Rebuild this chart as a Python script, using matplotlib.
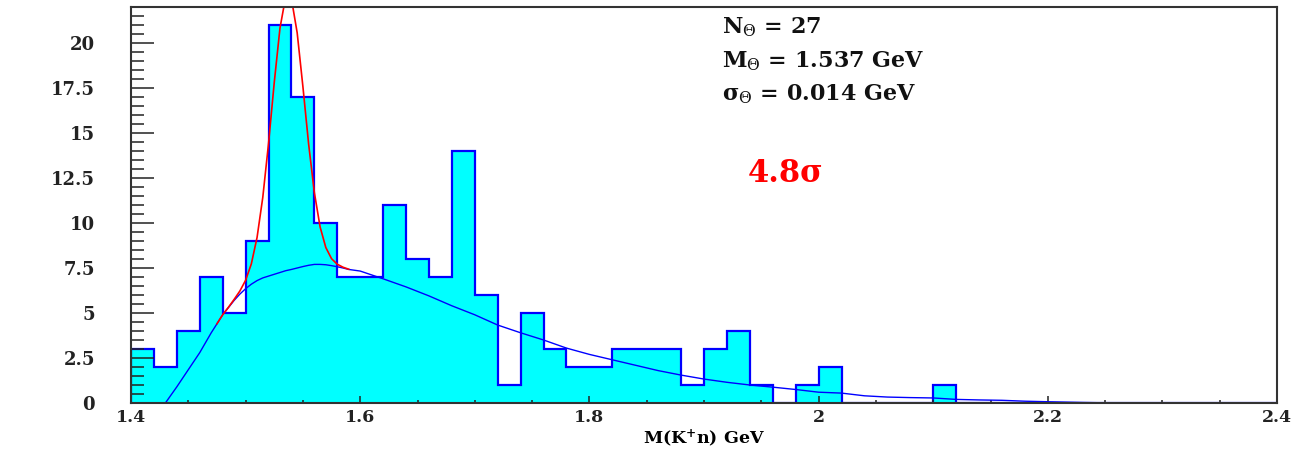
import numpy as np
import matplotlib
matplotlib.use("Agg")
import matplotlib.pyplot as plt
from matplotlib.ticker import MultipleLocator, FixedLocator, FixedFormatter

plt.rcParams["mathtext.fontset"] = "dejavuserif"

# K+n invariant-mass histogram, 0.02 GeV bins from 1.40 to 2.40 GeV
bin_width = 0.02
bin_low = 1.40
counts = [3, 2, 4, 7, 5, 9, 21, 17, 10, 7,
          7, 11, 8, 7, 14, 6, 1, 5, 3, 2,
          2, 3, 3, 3, 1, 3, 4, 1, 0, 1,
          2, 0, 0, 0, 0, 1, 0, 0, 0, 0,
          0, 0, 0, 0, 0, 0, 0, 0, 0, 0]
edges = bin_low + bin_width * np.arange(len(counts) + 1)

# smooth background shape under the histogram (GeV, counts per bin)
bkg_x = [1.43, 1.44, 1.45, 1.46, 1.47, 1.475, 1.48, 1.485, 1.49, 1.495,
         1.50, 1.505, 1.51, 1.515, 1.52, 1.525, 1.53, 1.535, 1.54, 1.545,
         1.55, 1.555, 1.56, 1.565, 1.57, 1.575, 1.58, 1.585, 1.59, 1.60,
         1.62, 1.64, 1.66, 1.68, 1.70, 1.72, 1.74, 1.76, 1.78, 1.80,
         1.82, 1.84, 1.86, 1.88, 1.90, 1.92, 1.94, 1.96, 1.98, 2.00,
         2.02, 2.04, 2.06, 2.08, 2.10, 2.12, 2.14, 2.16, 2.18, 2.20,
         2.23, 2.26]
bkg_y = [0.0, 0.9, 1.85, 2.8, 3.9, 4.4, 4.9, 5.3, 5.7, 6.05,
         6.35, 6.6, 6.8, 6.95, 7.05, 7.15, 7.25, 7.35, 7.42, 7.5,
         7.58, 7.65, 7.7, 7.7, 7.68, 7.63, 7.57, 7.5, 7.42, 7.33,
         6.9, 6.45, 5.95, 5.4, 4.9, 4.33, 3.9, 3.5, 3.05, 2.7,
         2.4, 2.1, 1.8, 1.55, 1.33, 1.15, 1.0, 0.88, 0.75, 0.6,
         0.55, 0.4, 0.33, 0.3, 0.28, 0.2, 0.17, 0.15, 0.1, 0.07,
         0.03, 0.0]

# Gaussian signal parameters from the fit
n_theta = 27
m_theta = 1.537
s_theta = 0.014
fit_low, fit_high = 1.475, 1.59
significance = "4.8"

y_ticks = [0, 2.5, 5, 7.5, 10, 12.5, 15, 17.5, 20]
y_tick_labels = ["0", "2.5", "5", "7.5", "10", "12.5", "15", "17.5", "20"]
x_ticks = [1.4, 1.6, 1.8, 2.0, 2.2, 2.4]
x_tick_labels = ["1.4", "1.6", "1.8", "2", "2.2", "2.4"]

fig = plt.figure(figsize=(13.1, 4.49), dpi=100)
ax = fig.add_axes([131 / 1310, 1 - 403 / 449, 1146 / 1310, 396 / 449])

ax.stairs(counts, edges, fill=True, color="#00FFFF", lw=0)
ax.stairs(counts, edges, color="#0000FF", lw=1.6, baseline=0)

ax.plot(bkg_x, bkg_y, color="#0000FF", lw=1.0)

bx = np.array(bkg_x)
by = np.array(bkg_y)
sel = (bx >= fit_low - 1e-9) & (bx <= fit_high + 1e-9)
amp = n_theta * bin_width / (np.sqrt(2 * np.pi) * s_theta)
sig_y = by[sel] + amp * np.exp(-0.5 * ((bx[sel] - m_theta) / s_theta) ** 2)
ax.plot(bx[sel], sig_y, color="#FF0000", lw=1.2)

ax.set_xlim(1.4, 2.4)
ax.set_ylim(0, 22)

serif = ["DejaVu Serif"]

ax.xaxis.set_major_locator(FixedLocator(x_ticks))
ax.xaxis.set_major_formatter(FixedFormatter(x_tick_labels))
ax.xaxis.set_minor_locator(MultipleLocator(0.05))
ax.yaxis.set_major_locator(FixedLocator(y_ticks))
ax.yaxis.set_major_formatter(FixedFormatter(y_tick_labels))
ax.yaxis.set_minor_locator(MultipleLocator(0.5))

ax.tick_params(axis="x", which="major", direction="in", length=5, width=1.1,
               pad=4, labelsize=12.5, colors="#222222")
ax.tick_params(axis="x", which="minor", direction="in", length=2.5, width=1.1,
               colors="#222222")
ax.tick_params(axis="y", which="major", direction="in", length=16.5, width=1.1,
               pad=26, labelsize=13, colors="#222222")
ax.tick_params(axis="y", which="minor", direction="in", length=9.5, width=1.1,
               colors="#222222")
for lab in ax.get_xticklabels() + ax.get_yticklabels():
    lab.set_fontfamily(serif)
    lab.set_fontweight("bold")

for sp in ax.spines.values():
    sp.set_linewidth(1.5)
    sp.set_color("#333333")

ax.set_xlabel("M(K$^{\\mathbf{+}}$n) GeV", fontsize=12.5, fontweight="bold",
              fontfamily=serif, labelpad=1)

stat_kw = dict(transform=ax.transAxes, ha="left", va="baseline",
               fontsize=16, fontweight="bold", fontfamily=serif, color="#111111")
ax.text(0.5157, 0.934, "N$_{\\Theta}$ = %d" % n_theta, **stat_kw)
ax.text(0.5157, 0.848, "M$_{\\Theta}$ = %.3f GeV" % m_theta, **stat_kw)
ax.text(0.5157, 0.765, "σ$_{\\Theta}$ = %.3f GeV" % s_theta, **stat_kw)

ax.text(0.538, 0.558, significance + "σ", transform=ax.transAxes,
        ha="left", va="baseline", fontsize=22, fontweight="bold",
        fontfamily=serif, color="#FF0000")

fig.savefig("out.png", dpi=100, facecolor="white")
